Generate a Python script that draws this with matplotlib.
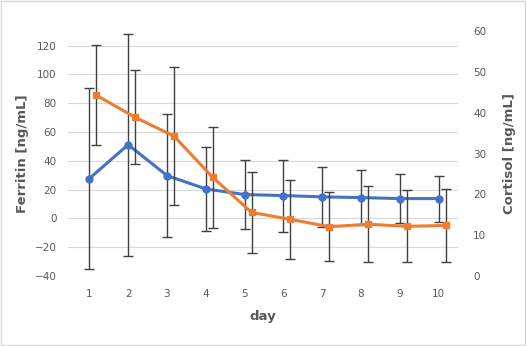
import numpy as np
import matplotlib.pyplot as plt

# 日ごとのデータ
days = [1, 2, 3, 4, 5, 6, 7, 8, 9, 10]
ferritin = [27.7, 51.2, 29.8, 20.5, 16.6, 15.9, 15.0, 14.5, 13.8, 13.8]
ferritin_err = [63, 77, 43, 29, 24, 25, 21, 19, 17, 16]
cortisol = [44.3, 38.9, 34.3, 24.2, 15.6, 13.9, 12.1, 12.7, 12.2, 12.4]
cortisol_err = [12.2, 11.5, 17.0, 12.3, 9.9, 9.7, 8.5, 9.3, 8.8, 9.0]

blue = '#4472C4'
orange = '#ED7D31'
grey = '#595959'
ebar = '#404040'

plt.rcParams['font.family'] = ['DejaVu Sans']

fig = plt.figure(figsize=(5.27, 3.46), dpi=100)
ax1 = fig.add_axes([0.129, 0.202, 0.740, 0.708])
ax2 = ax1.twinx()

x = np.array(days)

ax1.errorbar(x, ferritin, yerr=ferritin_err, color=blue, lw=2.2,
             marker='o', ms=5, ecolor=ebar, elinewidth=1, capsize=3.5,
             capthick=1, zorder=3)
ax2.errorbar(x + 0.18, cortisol, yerr=cortisol_err, color=orange, lw=2.2,
             marker='s', ms=5, ecolor=ebar, elinewidth=1, capsize=3.5,
             capthick=1, zorder=3)

ax1.set_xlim(0.45, 10.5)
ax1.set_ylim(-40, 130)
ax1.set_yticks(np.arange(-40, 121, 20))
ax2.set_ylim(0, 60)
ax2.set_yticks(np.arange(0, 61, 10))
ax1.set_xticks(days)

ax1.grid(axis='y', color='#D9D9D9', lw=0.8)
ax1.set_axisbelow(True)
for a in (ax1, ax2):
  for s in a.spines.values():
    s.set_visible(False)
  a.tick_params(length=0, colors=grey, labelsize=7.5)
ax1.tick_params(axis='y', pad=8)
ax1.tick_params(axis='x', pad=9)
ax2.tick_params(axis='y', pad=11)

ax1.set_ylabel('Ferritin [ng/mL]', color=grey, fontsize=9.5, fontweight='bold', labelpad=4)
ax2.set_ylabel('Cortisol [ng/mL]', color=grey, fontsize=9.5, fontweight='bold', labelpad=12)
ax1.set_xlabel('day', color=grey, fontsize=9.5, fontweight='bold', labelpad=8)

fig.patches.append(plt.Rectangle((0.002, 0.003), 0.995, 0.994, transform=fig.transFigure,
                                 fill=False, ec='#D9D9D9', lw=1))

fig.savefig('out.png', dpi=100)
